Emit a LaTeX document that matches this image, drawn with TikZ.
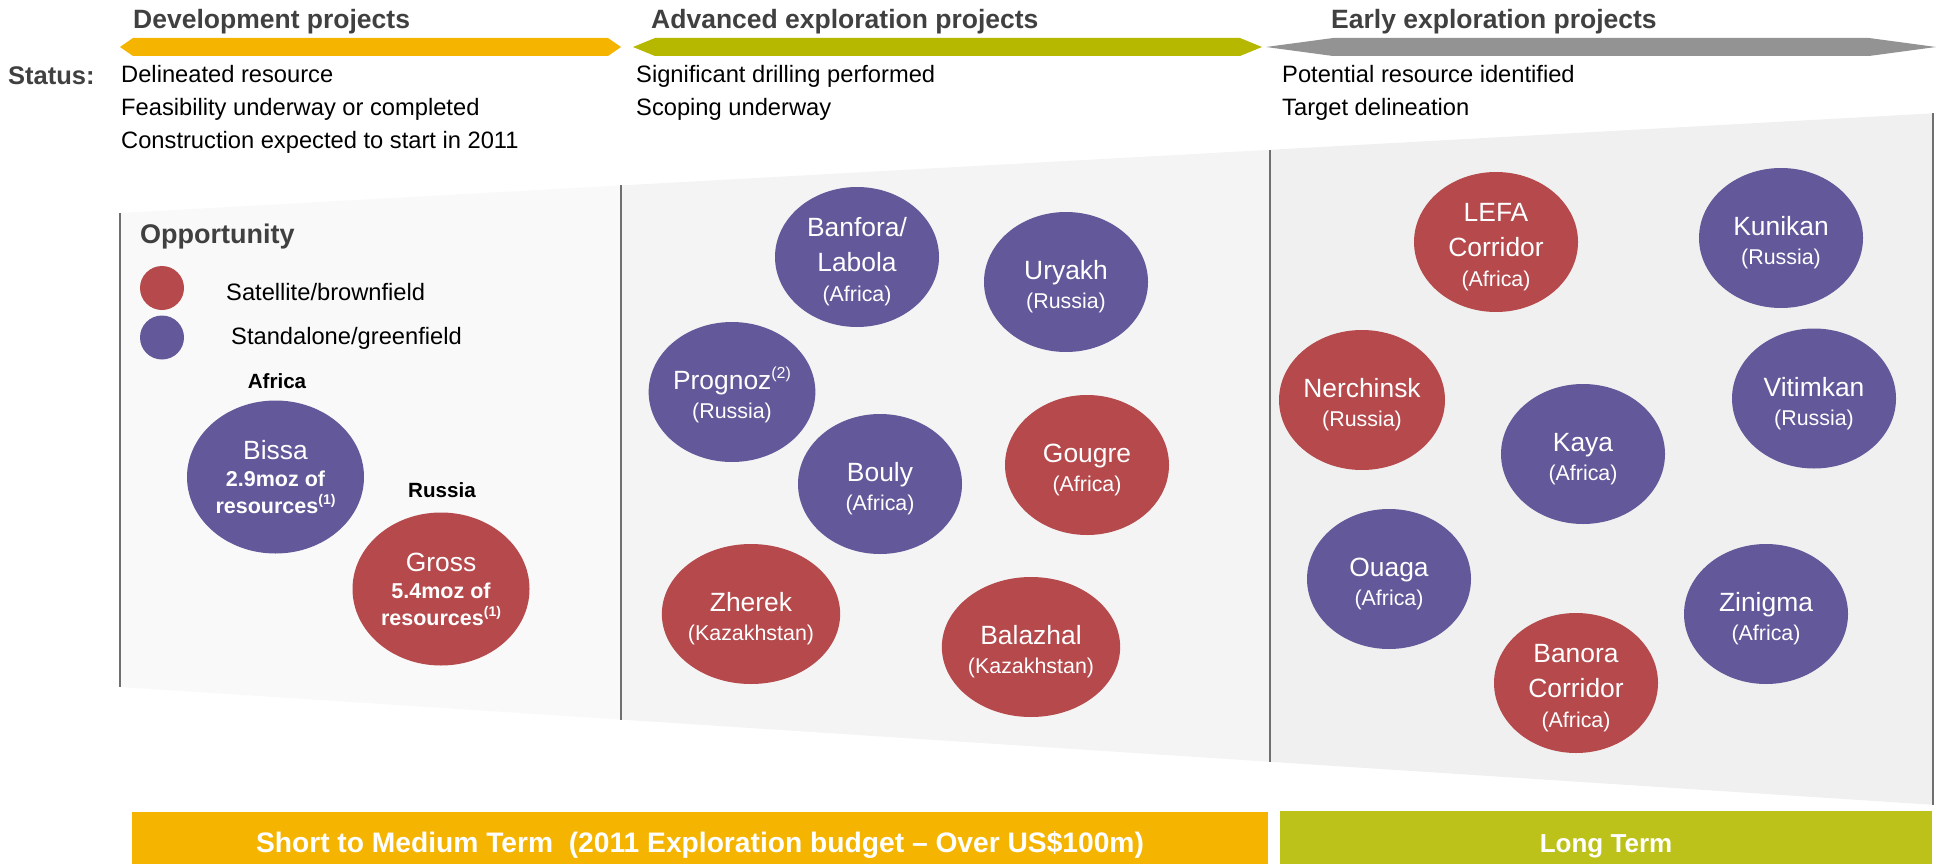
\documentclass[tikz,border=0pt]{standalone}
\usepackage{fontspec}
\setmainfont{Liberation Sans}
\usetikzlibrary{shapes.geometric}
\definecolor{corange}{HTML}{F5B400}
\definecolor{colive}{HTML}{B6B800}
\definecolor{colivebar}{HTML}{BDC21A}
\definecolor{cgrayarrow}{HTML}{939393}
\definecolor{cred}{HTML}{B5494C}
\definecolor{cblue}{HTML}{63589A}
\definecolor{ctitle}{HTML}{404040}
\definecolor{cline}{HTML}{6F6F6F}
\definecolor{panelA}{HTML}{F9F9F9}
\definecolor{panelB}{HTML}{F4F4F4}
\definecolor{panelC}{HTML}{F0F0F0}
\newcommand\fname{\fontsize{26.4}{35}\selectfont}
\newcommand\fsub{\fontsize{21.4}{26}\selectfont}
\newcommand\fbnum{\fontsize{21.5}{26}\selectfont\bfseries}
\newcommand\fbody{\fontsize{23.7}{27}\selectfont}
\newcommand\supx[2][13]{\raisebox{0.42em}{\fontsize{#1}{#1}\selectfont #2}}
\newcommand\tstr{\rule{0pt}{29pt}}
\begin{document}
\begin{tikzpicture}[x=1pt,y=-1pt,
  bub/.style={ellipse, minimum width=164pt, minimum height=140pt, inner sep=0pt,
    text=white, align=center, font=\fname},
  redb/.style={bub, fill=cred},
  blueb/.style={bub, fill=cblue},
  bigb/.style={minimum width=177pt, minimum height=153pt},
  title/.style={anchor=base west, inner sep=0pt, text=ctitle, font=\fontsize{26.5}{30}\selectfont\bfseries},
  statline/.style={anchor=base west, inner sep=0pt, font=\fbody},
  vline/.style={draw=cline, line width=2.8pt},
  legdot/.style={circle, minimum size=44pt, inner sep=0pt},
  bartext/.style={anchor=base, inner sep=0pt, text=white, font=\fontsize{28.2}{32}\selectfont\bfseries}
]
\useasboundingbox (0,0) rectangle (1937,864);

% panels
\fill[panelA] (120,213) -- (621,185.4) -- (621,719.6) -- (120,687) -- cycle;
\fill[panelB] (621,185.4) -- (1270,149.8) -- (1270,761.8) -- (621,719.6) -- cycle;
\fill[panelC] (1270,149.8) -- (1933,113.3) -- (1933,804.8) -- (1270,761.8) -- cycle;
\draw[vline] (120,213) -- (120,687);
\draw[vline] (621,185.4) -- (621,719.6);
\draw[vline] (1270,149.8) -- (1270,761.8);
\draw[vline] (1933,113.3) -- (1933,804.8);

% top arrows
\fill[corange] (120,47) -- (133,38) -- (608,38) -- (621,47) -- (608,56) -- (133,56) -- cycle;
\fill[colive] (633,47) -- (655,38) -- (1240,38) -- (1262,47) -- (1240,56) -- (655,56) -- cycle;
\fill[cgrayarrow] (1266,47) -- (1333,38) -- (1869,38) -- (1936,47) -- (1869,56) -- (1333,56) -- cycle;

% titles
\node[title] (t1) at (133,29) {Development projects};
\node[title] (t2) at (651,29) {Advanced exploration projects};
\node[title] (t3) at (1331,29) {Early exploration projects};

% status
\node[anchor=base west, inner sep=0pt, text=ctitle, font=\fontsize{25.5}{30}\selectfont\bfseries] (status) at (8,85) {Status:};
\node[statline] (s11) at (121,83) {Delineated resource};
\node[statline] (s12) at (121,116) {Feasibility underway or completed};
\node[statline] (s13) at (121,149) {Construction expected to start in 2011};
\node[statline] (s21) at (636,83) {Significant drilling performed};
\node[statline] (s22) at (636,116) {Scoping underway};
\node[statline] (s31) at (1282,83) {Potential resource identified};
\node[statline] (s32) at (1282,116) {Target delineation};

% legend
\node[anchor=base west, inner sep=0pt, text=ctitle, font=\fontsize{27}{30}\selectfont\bfseries] (opp) at (140,243) {Opportunity};
\node[legdot, fill=cred] (legred) at (162,288) {};
\node[legdot, fill=cblue] (legblue) at (162,337.5) {};
\node[statline] (legsat) at (226,300) {Satellite/brownfield};
\node[statline] (legsta) at (231,344) {Standalone/greenfield};

% development bubbles
\node[anchor=base, inner sep=0pt, font=\fontsize{20.6}{24}\selectfont\bfseries] (africa) at (277,388) {Africa};
\node[anchor=base, inner sep=0pt, font=\fontsize{20.6}{24}\selectfont\bfseries] (russia) at (442,497) {Russia};
\node[blueb, bigb] (bissa) at (275.5,477) {Bissa\\[-8pt]{\fbnum 2.9moz of}\\[-8pt]{\fbnum resources\supx[14]{(1)}}};
\node[redb, bigb] (gross) at (441,589) {Gross\\[-8pt]{\fbnum 5.4moz of}\\[-8pt]{\fbnum resources\supx[14]{(1)}}};

% advanced exploration bubbles
\node[blueb] (banfora) at (857,257) {\tstr Banfora/\\Labola\\[-5pt]{\fsub (Africa)}};
\node[blueb] (uryakh) at (1066,282) {\tstr Uryakh\\[-6pt]{\fsub (Russia)}};
\node[blueb] (prognoz) at (732,392) {\tstr Prognoz\supx[16]{(2)}\\[-6pt]{\fsub (Russia)}};
\node[blueb] (bouly) at (880,484) {\tstr Bouly\\[-6pt]{\fsub (Africa)}};
\node[redb] (gougre) at (1087,465) {\tstr Gougre\\[-6pt]{\fsub (Africa)}};
\node[redb] (zherek) at (751,614) {\tstr Zherek\\[-6pt]{\fsub (Kazakhstan)}};
\node[redb] (balazhal) at (1031,647) {\tstr Balazhal\\[-6pt]{\fsub (Kazakhstan)}};

% early exploration bubbles
\node[redb] (lefa) at (1496,242) {\tstr LEFA\\Corridor\\[-5pt]{\fsub (Africa)}};
\node[blueb] (kunikan) at (1781,238) {\tstr Kunikan\\[-6pt]{\fsub (Russia)}};
\node[redb] (nerchinsk) at (1362,400) {\tstr Nerchinsk\\[-6pt]{\fsub (Russia)}};
\node[blueb] (vitimkan) at (1814,398.5) {\tstr Vitimkan\\[-6pt]{\fsub (Russia)}};
\node[blueb] (kaya) at (1583,454) {\tstr Kaya\\[-6pt]{\fsub (Africa)}};
\node[blueb] (ouaga) at (1389,579) {\tstr Ouaga\\[-6pt]{\fsub (Africa)}};
\node[blueb] (zinigma) at (1766,614) {\tstr Zinigma\\[-6pt]{\fsub (Africa)}};
\node[redb] (banora) at (1576,683) {\tstr Banora\\Corridor\\[-5pt]{\fsub (Africa)}};

% bottom bars
\fill[corange] (132,812) rectangle (1268,864);
\fill[colivebar] (1280,811) rectangle (1932,864);
\node[bartext] (short) at (700,852) {Short to Medium Term\ \ (2011 Exploration budget -- Over US\$100m)};
\node[bartext, font=\fontsize{26}{30}\selectfont\bfseries] (long) at (1606,852) {Long Term};
\end{tikzpicture}
\end{document}
